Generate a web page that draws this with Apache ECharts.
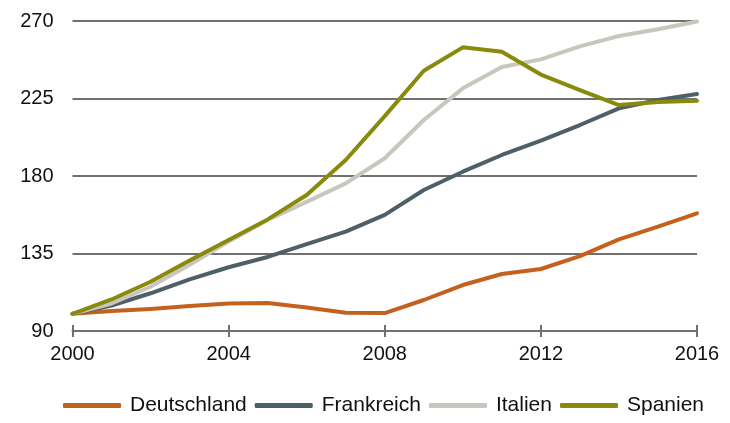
<!DOCTYPE html>
<html>
<head>
<meta charset="utf-8">
<script src="https://cdn.jsdelivr.net/npm/echarts@6/dist/echarts.min.js"></script>
<style>html,body{margin:0;padding:0;background:#fff}#c{width:730px;height:423px}</style>
</head>
<body>
<div id="c"></div>
<script>
var years = [2000,2001,2002,2003,2004,2005,2006,2007,2008,2009,2010,2011,2012,2013,2014,2015,2016];
var deutschland = [100,101.6,102.8,104.5,106,106.3,103.7,100.6,100.4,108,116.7,123.1,126,133.5,143.2,150.6,158.3];
var frankreich  = [100,104.8,111.9,120,127,133,140.5,147.7,157.4,171.9,182.5,192.2,200.5,209.6,219.3,224.1,227.6];
var italien     = [100,106,115.7,128.5,142,154.5,165,175.7,190.3,212.5,230.9,243.3,247.7,255.3,261.3,265.2,269.7];
var spanien     = [100,108.3,118.6,131,142.8,154.8,169,189.3,214.8,241.1,254.7,252.2,238.9,229.9,221.2,223,223.7];
var yTicks = [90,135,180,225,270];
var xTicks = [2000,2004,2008,2012,2016];

var names = ['Deutschland','Frankreich','Italien','Spanien'];
var colors = ['#C5611F','#4E5F68','#C9C6BD','#878A0B'];
var values = [deutschland, frankreich, italien, spanien];

function pairs(v){ return years.map(function(y,i){ return [y, v[i]]; }); }

var font = '"Liberation Sans", Arial, sans-serif';
var chart = echarts.init(document.getElementById('c'), null, {renderer:'canvas'});
var xBase = {
  type:'value', min:xTicks[0], max:xTicks[xTicks.length-1], interval:4, position:'bottom',
  splitLine:{show:false}
};
chart.setOption({
  animation:false,
  backgroundColor:'#ffffff',
  grid:{left:72.5, right:33, top:21, bottom:92, containLabel:false},
  legend:{
    data:names, left:58, top:390, itemWidth:58, itemHeight:5, itemGap:8,
    icon:'roundRect',
    textStyle:{fontFamily:font, fontSize:21, color:'#111', padding:[0,0,0,4]}
  },
  xAxis:[
    Object.assign({}, xBase, {
      axisLine:{show:true, lineStyle:{color:'#707070', width:2}},
      axisTick:{show:true, inside:false, length:6, lineStyle:{color:'#707070', width:2}},
      axisLabel:{show:true, margin:13, fontFamily:font, fontSize:20, color:'#111',
        formatter:function(v){ return String(v); }}
    }),
    Object.assign({}, xBase, {
      axisLine:{show:false},
      axisTick:{show:true, inside:true, length:6, lineStyle:{color:'#707070', width:2}},
      axisLabel:{show:false}
    })
  ],
  yAxis:{
    type:'value', min:yTicks[0], max:yTicks[yTicks.length-1], interval:45,
    axisLine:{show:false}, axisTick:{show:false},
    axisLabel:{margin:19, fontFamily:font, fontSize:20, color:'#111'},
    splitLine:{show:true, lineStyle:{color:'#707070', width:2}}
  },
  series: names.map(function(n,i){
    return {
      name:n, type:'line', xAxisIndex:0, data:pairs(values[i]),
      showSymbol:false, symbol:'none', smooth:false,
      lineStyle:{color:colors[i], width:4, cap:'round', join:'round'},
      itemStyle:{color:colors[i]}
    };
  })
});
</script>
</body>
</html>
